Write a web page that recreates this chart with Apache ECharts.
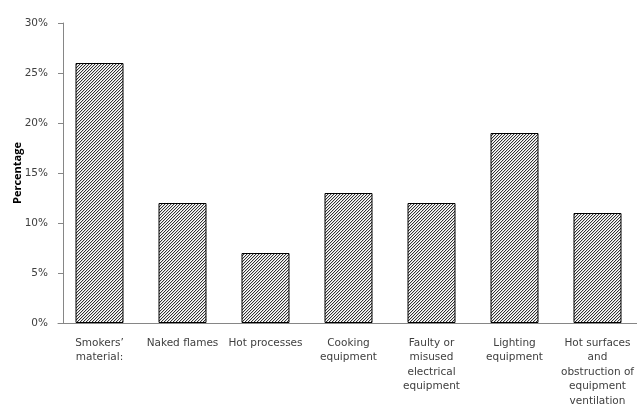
<!DOCTYPE html>
<html><head><meta charset="utf-8">
<script src="https://cdn.jsdelivr.net/npm/echarts@6/dist/echarts.min.js"></script>
<style>html,body{margin:0;padding:0;background:#fff}#c{width:637px;height:415px}</style>
</head><body><div id="c"></div>
<script>
var categories = ["Smokers\u2019\nmaterial:", "Naked flames", "Hot processes", "Cooking\nequipment", "Faulty or\nmisused\nelectrical\nequipment", "Lighting\nequipment", "Hot surfaces\nand\nobstruction of\nequipment\nventilation"];
var values = [26, 12, 7, 13, 12, 19, 11];
var yTicks = [0, 5, 10, 15, 20, 25, 30];

function hatch() {
  var s = 3;
  var c = document.createElement('canvas');
  c.width = s; c.height = s;
  var g = c.getContext('2d');
  g.fillStyle = '#fff'; g.fillRect(0, 0, s, s);
  for (var x = 0; x < s; x++) for (var y = 0; y < s; y++) {
    var k = (x + y) % s;
    if (k === 2) { g.fillStyle = '#333'; g.fillRect(x, y, 1, 1); }
    else if (k === 0) { g.fillStyle = '#d0d0d0'; g.fillRect(x, y, 1, 1); }
  }
  return c;
}

var chart = echarts.init(document.getElementById('c'));
chart.setOption({
  animation: false,
  grid: {left: 58, width: 581, top: 23, bottom: 92, containLabel: false, outerBoundsMode: 'none'},
  xAxis: {
    type: 'category', data: categories,
    axisLine: {lineStyle: {color: '#868686'}},
    axisTick: {show: false},
    axisLabel: {interval: 0, color: '#404040', fontFamily: 'DejaVu Sans', fontSize: 10.5, lineHeight: 14.5, margin: 13}
  },
  yAxis: {
    type: 'value', min: 0, max: 30, interval: 5, offset: -5,
    name: 'Percentage', nameLocation: 'middle', nameGap: 40, nameMoveOverlap: false,
    nameTextStyle: {fontWeight: 'bold', fontSize: 11, color: '#000', fontFamily: 'Open Sans'},
    axisLine: {show: true, lineStyle: {color: '#868686'}},
    axisTick: {show: true, length: 5, lineStyle: {color: '#868686'}},
    splitLine: {show: false},
    axisLabel: {color: '#404040', fontFamily: 'DejaVu Sans', fontSize: 10.5, margin: 15,
      formatter: function (v) { return yTicks.indexOf(v) >= 0 ? v + '%' : ''; }}
  },
  series: [{
    type: 'bar', data: values, barWidth: 48,
    itemStyle: {color: {image: hatch(), repeat: 'repeat'}, borderColor: '#000', borderWidth: 1}
  }]
});
</script></body></html>
